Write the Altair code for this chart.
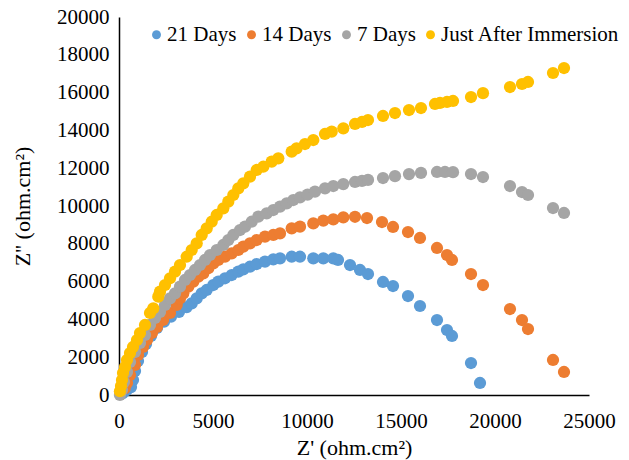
import altair as alt
import pandas as pd

series_names = ["21 Days", "14 Days", "7 Days", "Just After Immersion"]
series_colors = ["#5B9BD5", "#ED7D31", "#A5A5A5", "#FFC000"]

x_21 = [200, 400, 640, 745, 851, 1011, 1223, 1436, 1702, 2021, 2394, 2766, 3191, 3601, 3867, 4133, 4399,
        4665, 5016, 5282, 5638, 5994, 6346, 6612, 6968, 7324, 7766, 8207, 8564, 9186, 9627, 10335,
        10867, 11399, 11649, 12287, 12819, 13244, 14042, 14574, 15372, 16010, 16914, 17446, 17712,
        18723, 19202]
y_21 = [100, 250, 420, 794, 1270, 1800, 2275, 2698, 3122, 3545, 3880, 4150, 4400, 4650, 4847, 5116, 5381,
        5556, 5820, 5995, 6175, 6349, 6524, 6651, 6788, 6931, 7053, 7180, 7233, 7317, 7317, 7233,
        7233, 7233, 7143, 6878, 6614, 6402, 5979, 5767, 5238, 4709, 3968, 3439, 3122,
        1693, 635]

x_14 = [300, 426, 585, 851, 1011, 1277, 1489, 1755, 2021, 2340, 2713, 3069, 3245, 3420, 3686, 3952,
        4218, 4484, 4750, 5016, 5282, 5638, 5994, 6346, 6612, 6968, 7324, 7766, 8207, 8564, 9186,
        9627, 10335, 10867, 11399, 11931, 12553, 13191, 13989, 14574, 15372, 16010, 16914, 17446,
        17712, 18723, 19361, 20797, 21436, 21755, 23085, 23670]
y_14 = [350, 635, 1058, 1587, 2116, 2540, 2910, 3280, 3598, 3968, 4339, 4762, 5116, 5381, 5730, 5995,
        6259, 6439, 6704, 6968, 7143, 7317, 7497, 7672, 7847, 8026, 8201, 8376, 8466, 8550, 8820,
        8905, 9079, 9222, 9296, 9400, 9430, 9365, 9153, 8889, 8624, 8307, 7778, 7407,
        7143, 6402, 5820, 4550, 3968, 3492, 1852, 1217]

x_7 = [50, 160, 266, 426, 585, 851, 1117, 1383, 1649, 1915, 2181, 2447, 2713, 2979, 3245, 3511, 3776,
       4042, 4308, 4574, 4840, 5197, 5548, 5814, 6080, 6436, 6702, 7058, 7409, 7856, 8207, 8564,
       8920, 9271, 9627, 10030, 10425, 10957, 11399, 11931, 12553, 12925, 13244, 14042, 14680,
       15425, 16063, 16914, 17340, 17766, 18723, 19361, 20797, 21436, 21755, 23085, 23670]
y_7 = [0, 265, 688, 1217, 1746, 2275, 2751, 3175, 3704, 4074, 4392, 4762, 5116, 5381, 5730, 6085, 6349,
       6614, 6878, 7143, 7407, 7672, 7937, 8201, 8466, 8730, 8905, 9169, 9434, 9608, 9788, 9963,
       10140, 10317, 10455, 10600, 10757, 10936, 11058, 11160, 11270, 11330, 11380, 11480, 11580,
       11690, 11750, 11800, 11800, 11790, 11693, 11534, 11058, 10740, 10582, 9894, 9630]

x_0 = [50, 106, 160, 213, 319, 426, 585, 745, 957, 1117, 1383, 1649, 1824, 2090, 2181, 2447, 2713,
       2979, 3245, 3601, 3867, 4133, 4399, 4665, 4931, 5197, 5548, 5814, 6080, 6346, 6612, 6968,
       7324, 7675, 8122, 8473, 9186, 9446, 9893, 10335, 10957, 11314, 11931, 12553, 12925, 13244,
       14042, 14680, 15425, 16063, 16808, 17074, 17446, 17766, 18723, 19361, 20797, 21436, 21755,
       23085, 23670]
y_0 = [200, 476, 794, 1164, 1481, 1852, 2222, 2540, 2910, 3280, 3704, 4339, 4587, 5201, 5466, 5820, 6175,
       6524, 6878, 7317, 7672, 8026, 8466, 8820, 9169, 9524, 9878, 10228, 10582, 10936, 11201, 11550,
       11905, 12079, 12344, 12524, 12873, 13053, 13280, 13492, 13810, 13931, 14111, 14339, 14445, 14550,
       14762, 14920, 15079, 15185, 15397, 15450, 15504, 15556, 15767, 15970, 16296, 16455, 16561,
       17037, 17300]

x_ticks = [0, 5000, 10000, 15000, 20000, 25000]
y_ticks = [0, 2000, 4000, 6000, 8000, 10000, 12000, 14000, 16000, 18000, 20000]

frames = []
for name, xs, ys in zip(series_names, [x_21, x_14, x_7, x_0], [y_21, y_14, y_7, y_0]):
    frames.append(pd.DataFrame({"zr": xs, "zi": ys, "series": name}))
df = pd.concat(frames, ignore_index=True)
df["order"] = range(len(df))

FONT = "Times New Roman, Liberation Serif, serif"

chart = alt.Chart(df).mark_circle(size=150, opacity=1).encode(
    x=alt.X("zr:Q", scale=alt.Scale(domain=[0, 25000], nice=False),
            axis=alt.Axis(values=x_ticks, format="d", title="Z' (ohm.cm²)", grid=False, ticks=False,
                          labelFlush=False, labelPadding=15, titlePadding=6)),
    y=alt.Y("zi:Q", scale=alt.Scale(domain=[0, 20000], nice=False),
            axis=alt.Axis(values=y_ticks, format="d", title="Z'' (ohm.cm²)", grid=False, ticks=False,
                          labelFlush=False, labelPadding=10, titlePadding=22)),
    color=alt.Color("series:N", scale=alt.Scale(domain=series_names, range=series_colors),
                    legend=alt.Legend(title=None, orient="none", direction="horizontal",
                                      legendX=27, legendY=7, symbolType="circle",
                                      symbolSize=80, labelOffset=0,
                                      columnPadding=4, labelLimit=400,
                                      labelFont=FONT, labelFontSize=21, labelColor="#000",
                                      padding=0)),
    order=alt.Order("order:Q"),
).properties(
    width=470, height=378,
    autosize=alt.AutoSizeParams(type="none"),
    padding={"left": 111, "top": 9, "right": 32, "bottom": 68},
).configure_view(stroke=None).configure_axis(
    labelFont=FONT, labelFontSize=21, labelColor="#000",
    titleFont=FONT, titleFontSize=22, titleFontWeight="normal", titleColor="#000",
    domainColor="#000", domainWidth=1.5,
)

chart.save("out.html", embed_options={"renderer": "svg", "actions": False})
